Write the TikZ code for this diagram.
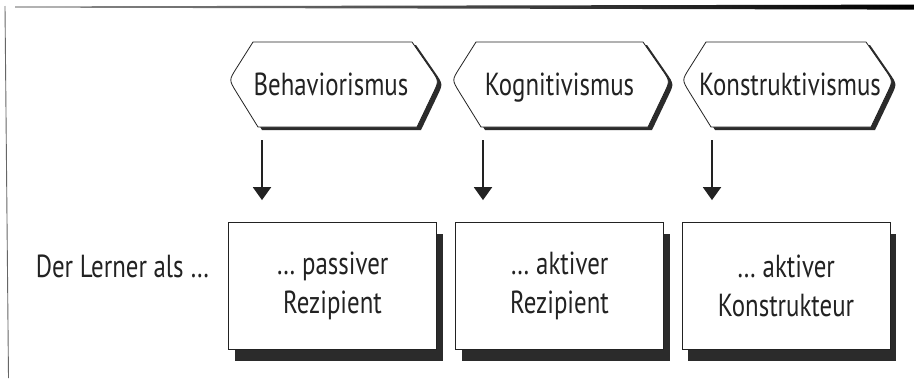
\documentclass[tikz,border=0pt]{standalone}
\usepackage{fontspec}
\setmainfont{PT Sans}[FakeStretch=0.78]
\usetikzlibrary{arrows.meta,shadows}

\definecolor{ink}{HTML}{222222}
\definecolor{shadowgray}{HTML}{2B2B2B}

% outline of a label plate: #1 = x of left tip, #2 = x of right tip
\newcommand\plateoutline[2]{({#1+24},42) -- ({#2-27},42) -- ({#2-8.1},69.3)
  .. controls (#2,81) .. ({#2-5.5},92.5) -- ({#2-22},127) -- ({#1+29},127)
  -- ({#1+7.2},91.8) .. controls (#1,80) .. ({#1+7.2},68.6) -- cycle}

\tikzset{
  every node/.style={font=\fontsize{32}{39}\selectfont, text=ink},
  platetext/.style={anchor=base, inner sep=0pt},
  plateshadow/.style={fill=shadowgray, shift={(4,3)}},
  plateface/.style={draw=ink, line width=0.8bp, fill=white},
  learnbox/.style={draw=ink, line width=0.8bp, fill=white,
    minimum width=208bp, minimum height=127bp, align=center, inner sep=0pt,
    general shadow={fill=shadowgray, shadow xshift=6bp, shadow yshift=-11bp}},
  flowarrow/.style={draw=ink, line width=2bp,
    -{Triangle[width=18bp,length=13bp]}, shorten >=22bp}
}

\begin{document}
\begin{tikzpicture}[x=1bp, y=-1bp]
  \fill[white] (0,0) rectangle (914,389);
  \useasboundingbox (0,0) rectangle (914,389);

  % page rules
  \shade[left color=black!45, right color=black]
    (15,6.4) -- (914,4.6) -- (914,9.6) -- (15,7.6) -- cycle;
  \draw[black!60, line width=0.9bp] (5,6) -- (8.5,378);

  % label plates
  \fill[plateshadow] \plateoutline{229}{439};
  \filldraw[plateface] \plateoutline{229}{439};
  \fill[plateshadow] \plateoutline{452}{670};
  \filldraw[plateface] \plateoutline{452}{670};
  \fill[plateshadow] \plateoutline{682}{893};
  \filldraw[plateface] \plateoutline{682}{893};

  \node[platetext] (h1) at (331,95) {Behaviorismus};
  \node[platetext] (h2) at (559.5,95) {Kognitivismus};
  \node[platetext] (h3) at (790,95) {Konstruktivismus};

  % row caption
  \node[anchor=base] (lbl) at (122.5,277) {Der Lerner als …};

  % learner boxes
  \node[learnbox] (b1) at (332.5,286) {… passiver\\Rezipient};
  \node[learnbox] (b2) at (559.5,286) {… aktiver\\Rezipient};
  \node[learnbox] (b3) at (786,286) {… aktiver\\Konstrukteur};

  % arrows from the plates down to the boxes
  \coordinate (a1) at (262,140);
  \coordinate (a2) at (483,140);
  \coordinate (a3) at (712,140);
  \draw[flowarrow] (a1) -- (a1 |- b1.north);
  \draw[flowarrow] (a2) -- (a2 |- b2.north);
  \draw[flowarrow] (a3) -- (a3 |- b3.north);
\end{tikzpicture}
\end{document}
